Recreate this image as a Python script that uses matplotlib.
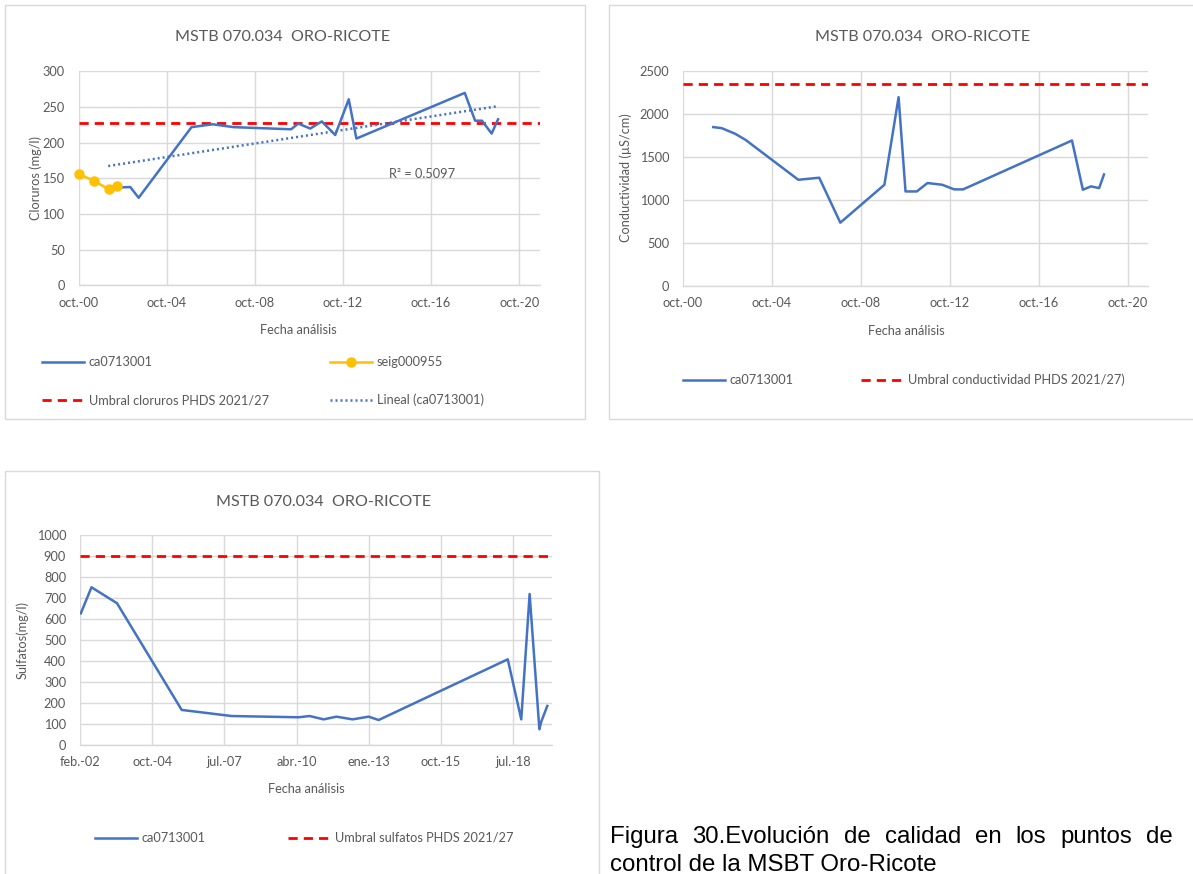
import numpy as np
import pandas as pd
import matplotlib
matplotlib.use("Agg")
import matplotlib.pyplot as plt
import matplotlib.dates as mdates
from matplotlib.legend import Legend
from matplotlib.patches import Rectangle
from matplotlib.ticker import FixedLocator, FuncFormatter, MultipleLocator

W, H, DPI = 1193, 874, 100

# --- data ---
# Cloruros (mg/l)
clor_fechas = ['2002-02-06', '2003-02-06', '2003-06-25', '2005-11-17', '2006-11-03',
               '2007-10-16', '2010-05-26', '2010-09-20', '2011-04-08', '2011-10-16',
               '2012-05-26', '2013-01-05', '2013-05-12', '2018-04-12', '2018-10-01',
               '2019-01-23', '2019-07-01', '2019-10-16']
clor_ca = [137, 138, 123, 222, 226, 222, 219, 227, 220, 230,
           211, 261, 206, 270, 231, 231, 213, 233]
seig_fechas = ['2000-10-12', '2001-06-07', '2002-02-14', '2002-07-08']
clor_seig = [156, 147, 135, 139]
umbral_clor = 228
r2_text = 'R² = 0.5097'

# Conductividad (uS/cm)
cond_fechas = ['2002-02-10', '2002-06-28', '2003-02-06', '2003-07-24', '2005-12-09',
               '2006-11-17', '2007-10-30', '2009-10-23', '2010-06-13', '2010-10-05',
               '2011-04-08', '2011-10-01', '2012-05-30', '2012-12-13', '2013-05-08',
               '2018-04-01', '2018-09-27', '2019-02-06', '2019-06-21', '2019-09-09']
cond_ca = [1852, 1840, 1774, 1704, 1238, 1262, 738, 1180, 2201, 1102,
           1102, 1200, 1180, 1126, 1126, 1696, 1122, 1161, 1141, 1300]
umbral_cond = 2350

# Sulfatos (mg/l)
sulf_fechas = ['2002-02-12', '2002-07-10', '2003-06-29', '2005-12-11', '2007-11-01',
               '2010-05-21', '2010-10-18', '2011-05-02', '2011-10-25', '2012-06-04',
               '2013-01-14', '2013-06-01', '2018-04-25', '2018-10-29', '2019-02-22',
               '2019-07-07', '2019-08-02', '2019-10-25']
sulf_ca = [627, 751, 675, 167, 138, 132, 138, 122, 135, 122,
           135, 119, 408, 122, 719, 75, 111, 186]
umbral_sulf = 900

titulo = 'MSTB 070.034  ORO-RICOTE'
caption_1 = 'Figura 30.Evolución de calidad en los puntos de'
caption_2 = 'control de la MSBT Oro-Ricote'

MESES = ['ene', 'feb', 'mar', 'abr', 'may', 'jun', 'jul', 'ago', 'sep', 'oct', 'nov', 'dic']

BLUE = '#4472C4'
ORANGE = '#FFC000'
RED = '#FF0000'
GRID = '#D9D9D9'
TXT = '#595959'
FS = 9.2
FS_TIT = 11.6

plt.rcParams['font.family'] = ['Lato', 'DejaVu Sans']

fig = plt.figure(figsize=(W / DPI, H / DPI), dpi=DPI)


def rect(x0, y0, x1, y1):
    return [x0 / W, 1 - y1 / H, (x1 - x0) / W, (y1 - y0) / H]


def fx(x):
    return x / W


def fy(y):
    return 1 - y / H


def frame(x0, y0, x1, y1):
    fig.add_artist(Rectangle((x0 / W, 1 - y1 / H), (x1 - x0) / W, (y1 - y0) / H,
                             transform=fig.transFigure, fill=False,
                             edgecolor=GRID, lw=1.0))


def fecha_es(x, pos=None):
    d = mdates.num2date(x)
    return f"{MESES[d.month - 1]}.-{d:%y}"


def style_axes(ax, ymax, ystep, xticks, xlim):
    ax.set_ylim(0, ymax)
    ax.yaxis.set_major_locator(MultipleLocator(ystep))
    ax.set_xlim(mdates.date2num(pd.Timestamp(xlim[0])), mdates.date2num(pd.Timestamp(xlim[1])))
    ax.xaxis.set_major_locator(FixedLocator(mdates.date2num(xticks)))
    ax.xaxis.set_major_formatter(FuncFormatter(fecha_es))
    ax.grid(True, color=GRID, lw=1.0)
    ax.set_axisbelow(True)
    for s in ['top', 'right', 'left']:
        ax.spines[s].set_visible(False)
    ax.spines['bottom'].set_color(GRID)
    ax.spines['bottom'].set_linewidth(1.0)
    ax.tick_params(length=0, labelsize=FS, labelcolor=TXT)
    ax.tick_params(axis='y', pad=10)
    ax.tick_params(axis='x', pad=8)
    ax.patch.set_alpha(0)


def legend_item(ax, handle, label, x, y):
    leg = Legend(ax, [handle], [label], loc='center left',
                 bbox_to_anchor=(fx(x), fy(y)), bbox_transform=fig.transFigure,
                 frameon=False, borderpad=0, borderaxespad=0,
                 handlelength=3.3, handletextpad=0.35, fontsize=FS,
                 labelcolor=TXT)
    ax.add_artist(leg)


def fig_text(x, y, s, **kw):
    kw.setdefault('color', TXT)
    kw.setdefault('fontsize', FS)
    kw.setdefault('ha', 'center')
    kw.setdefault('va', 'center')
    return fig.text(fx(x), fy(y), s, **kw)


ticks_oct = pd.to_datetime(['2000-10-01', '2004-10-01', '2008-10-01',
                            '2012-10-01', '2016-10-01', '2020-10-01'])

# ---------------- chart 1: cloruros ----------------
frame(5, 5, 585, 419)
ax1 = fig.add_axes(rect(78.5, 71.5, 540, 285.5))
style_axes(ax1, 300, 50, ticks_oct, ('2000-10-01', '2021-09-10'))
x_clor = pd.to_datetime(clor_fechas)
x_seig = pd.to_datetime(seig_fechas)
l_ca1, = ax1.plot(x_clor, clor_ca, color=BLUE, lw=1.8, zorder=3)
l_seig, = ax1.plot(x_seig, clor_seig, color=ORANGE, lw=1.8, marker='o', ms=6.5,
                   zorder=4, clip_on=False)
l_um1 = ax1.axhline(umbral_clor, color=RED, lw=2.0, dashes=(3.3, 2.2), zorder=2.5)
xn = mdates.date2num(x_clor)
pend, orig = np.polyfit(xn, clor_ca, 1)
xt = np.array([xn[0], xn[-1]])
l_tr, = ax1.plot(xt, pend * xt + orig, color=BLUE, lw=1.8,
                 linestyle=(0, (0.8, 1.2)), zorder=3)
fig_text(283, 37, titulo, fontsize=FS_TIT)
fig_text(298, 330, 'Fecha análisis')
fig_text(36, 178, 'Cloruros (mg/l)', rotation=90)
fig_text(422, 174, r2_text)
legend_item(ax1, l_ca1, 'ca0713001', 42, 362)
legend_item(ax1, l_um1, 'Umbral cloruros PHDS 2021/27', 42, 400)
legend_item(ax1, l_seig, 'seig000955', 330, 362)
legend_item(ax1, l_tr, 'Lineal (ca0713001)', 330, 400)

# ---------------- chart 2: conductividad ----------------
frame(609, 5, 1200, 419)
ax2 = fig.add_axes(rect(683, 71.5, 1148, 286))
style_axes(ax2, 2500, 500, ticks_oct, ('2000-10-01', '2021-09-01'))
l_ca2, = ax2.plot(pd.to_datetime(cond_fechas), cond_ca, color=BLUE, lw=1.8, zorder=3)
l_um2 = ax2.axhline(umbral_cond, color=RED, lw=2.0, dashes=(3.3, 2.2), zorder=2.5)
fig_text(923, 37, titulo, fontsize=FS_TIT)
fig_text(906, 331, 'Fecha análisis')
fig_text(626, 178, 'Conductividad (µS/cm)', rotation=90)
legend_item(ax2, l_ca2, 'ca0713001', 683, 380)
legend_item(ax2, l_um2, 'Umbral conductividad PHDS 2021/27)', 861, 380)

# ---------------- chart 3: sulfatos ----------------
frame(5, 471, 599, 890)
d0 = pd.Timestamp('2002-02-01')
ticks_1000 = [d0 + pd.Timedelta(days=1000 * k) for k in range(7)]
ax3 = fig.add_axes(rect(80, 535, 552, 745))
style_axes(ax3, 1000, 100, ticks_1000, (d0, d0 + pd.Timedelta(days=6540)))
l_ca3, = ax3.plot(pd.to_datetime(sulf_fechas), sulf_ca, color=BLUE, lw=1.8, zorder=3)
l_um3 = ax3.axhline(umbral_sulf, color=RED, lw=2.0, dashes=(3.3, 2.2), zorder=2.5)
fig_text(324, 502, titulo, fontsize=FS_TIT)
fig_text(306, 789, 'Fecha análisis')
fig_text(22, 640, 'Sulfatos(mg/l)', rotation=90)
legend_item(ax3, l_ca3, 'ca0713001', 95, 838)
legend_item(ax3, l_um3, 'Umbral sulfatos PHDS 2021/27', 288, 838)

# ---------------- caption (justified first line) ----------------
renderer = fig.canvas.get_renderer()
palabras = caption_1.split()
cap_kw = dict(fontsize=17.3, family=['Liberation Sans', 'DejaVu Sans'],
              color='black', va='baseline', ha='left')
textos = [fig.text(0, fy(843), p, **cap_kw) for p in palabras]
anchos = [t.get_window_extent(renderer).width for t in textos]
hueco = (1173 - 610 - sum(anchos)) / (len(palabras) - 1)
x = 610
for t, a in zip(textos, anchos):
    t.set_x(fx(x))
    x += a + hueco
fig.text(fx(610), fy(871), caption_2, **cap_kw)

fig.savefig('out.png', dpi=DPI)
